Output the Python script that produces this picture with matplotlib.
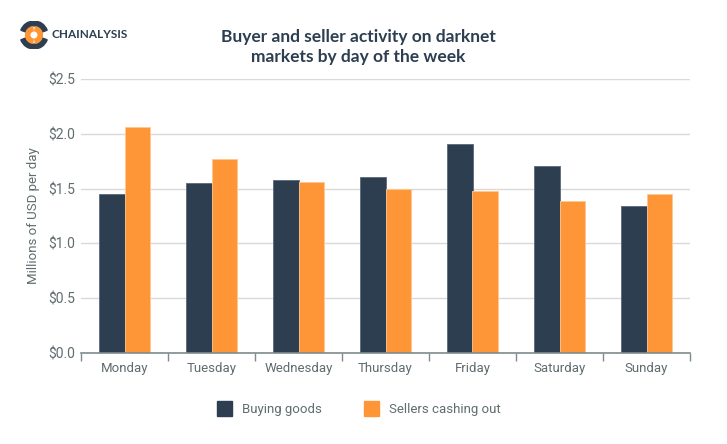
import matplotlib
matplotlib.use("Agg")
import matplotlib.pyplot as plt
import numpy as np
from matplotlib.patches import Rectangle, Wedge

days = ["Monday", "Tuesday", "Wednesday", "Thursday", "Friday", "Saturday", "Sunday"]
buying = [1.45, 1.55, 1.58, 1.61, 1.91, 1.71, 1.34]
selling = [2.06, 1.77, 1.56, 1.50, 1.48, 1.39, 1.45]
yticks = [0.0, 0.5, 1.0, 1.5, 2.0, 2.5]
ytick_labels = ["$0.0", "$0.5", "$1.0", "$1.5", "$2.0", "$2.5"]

NAVY = "#2c3e50"
ORANGE = "#fe9637"
GREY_TXT = "#606c6e"
GRID = "#d9d9d9"

plt.rcParams['font.family'] = ['Roboto', 'DejaVu Sans']

fig = plt.figure(figsize=(7.27, 4.44), dpi=100)
ax = fig.add_axes([81/727, 1-353/444, (690-81)/727, (353-79)/444])

x = np.arange(len(days))
w = 0.29
ax.bar(x - w/2, buying, width=w, color=NAVY, edgecolor="#5a6878", linewidth=0.6, zorder=3)
ax.bar(x + w/2, selling, width=w, color=ORANGE, edgecolor="#ffc890", linewidth=0.6, zorder=3)

ax.set_xlim(-0.5, len(days) - 0.5)
ax.set_ylim(0, 2.5)
ax.set_yticks(yticks)
ax.set_yticklabels(ytick_labels)
ax.yaxis.grid(True, color=GRID, linewidth=1.0, zorder=0)
ax.tick_params(axis='y', length=0, pad=4.5, labelsize=10, labelcolor=GREY_TXT)

ax.set_xticks(x)
ax.set_xticklabels(days)
ax.tick_params(axis='x', which='major', length=0, pad=6.5, labelsize=9.5, labelcolor=GREY_TXT)
ax.set_xticks(np.arange(-0.5, len(days)), minor=True)
ax.tick_params(axis='x', which='minor', length=6, width=1, color="#7f8c8d", direction='out')

for s in ["top", "right", "left"]:
    ax.spines[s].set_visible(False)
ax.spines["bottom"].set_color("#7f8c8d")
ax.spines["bottom"].set_linewidth(1.2)
ax.spines["bottom"].set_zorder(4)

ax.set_ylabel("Millions of USD per day", fontsize=9.5, color=GREY_TXT, labelpad=6)

fig.text(358/727, 1-37/444, "Buyer and seller activity on darknet", ha="center", va="center",
         fontsize=12.5, fontweight="bold", color=NAVY, family=['Lato', 'DejaVu Sans'])
fig.text(358/727, 1-57/444, "markets by day of the week", ha="center", va="center",
         fontsize=12.5, fontweight="bold", color=NAVY, family=['Lato', 'DejaVu Sans'])

# Logo
lax = fig.add_axes([20/727, 1-49/444, 28/727, 28/444])
lax.set_xlim(-1, 1); lax.set_ylim(-1, 1); lax.set_aspect('equal'); lax.axis('off')
lax.add_patch(Wedge((0, 0), 1.0, 20, 160, width=0.35, color=NAVY))
lax.add_patch(Wedge((0, 0), 1.0, 200, 340, width=0.35, color=NAVY))
lax.add_patch(Wedge((0, 0), 0.6, 100, 260, width=0.3, color=ORANGE))
lax.add_patch(Wedge((0, 0), 0.6, 280, 80, width=0.3, color=ORANGE))
fig.text(52/727, 1-35/444, "CHAINALYSIS", ha="left", va="center", fontsize=8.5,
         fontweight="bold", color=NAVY, family=['Lato', 'DejaVu Sans'])

# Legend
fig.patches.append(Rectangle((217/727, 1-416/444), 15/727, 15/444, transform=fig.transFigure,
                             color=NAVY, figure=fig))
fig.text(242/727, 1-409/444, "Buying goods", ha="left", va="center", fontsize=9.5, color=GREY_TXT)
fig.patches.append(Rectangle((364/727, 1-416/444), 15/727, 15/444, transform=fig.transFigure,
                             color=ORANGE, figure=fig))
fig.text(389/727, 1-409/444, "Sellers cashing out", ha="left", va="center", fontsize=9.5, color=GREY_TXT)

fig.savefig("out.png", dpi=100, facecolor="white")
